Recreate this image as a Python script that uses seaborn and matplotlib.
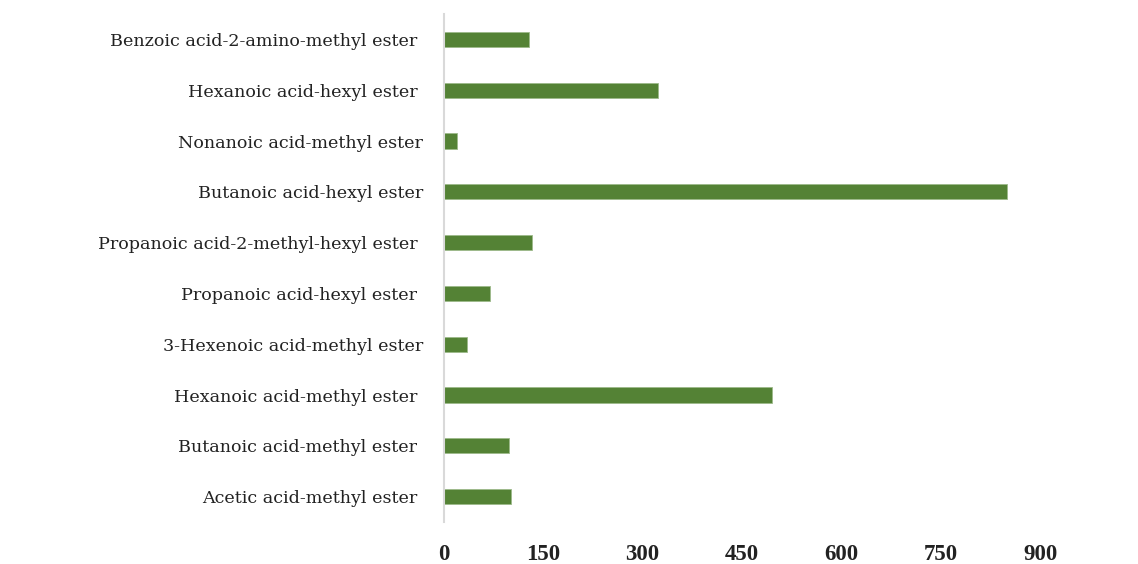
import matplotlib
matplotlib.use("Agg")
import matplotlib.pyplot as plt
import seaborn as sns
import pandas as pd

categories = [
    "Benzoic acid-2-amino-methyl ester ",
    "Hexanoic acid-hexyl ester ",
    "Nonanoic acid-methyl ester",
    "Butanoic acid-hexyl ester",
    "Propanoic acid-2-methyl-hexyl ester ",
    "Propanoic acid-hexyl ester ",
    "3-Hexenoic acid-methyl ester",
    "Hexanoic acid-methyl ester ",
    "Butanoic acid-methyl ester ",
    "Acetic acid-methyl ester ",
]
values = [128, 323, 20, 850, 133, 69, 35, 495, 98, 101]
x_ticks = [0, 150, 300, 450, 600, 750, 900]

df = pd.DataFrame({"compound": categories, "value": values})

sns.set_theme(style="white")
plt.rcParams["font.family"] = ["DejaVu Serif"]

fig = plt.figure(figsize=(11.38, 5.64), dpi=100)
ax = fig.add_axes([0.390, 0.0745, 0.524, 0.9005])

sns.barplot(data=df, y="compound", x="value", orient="h", color="#548235",
            width=0.3, saturation=1, edgecolor="#9DB98A", linewidth=0.6, ax=ax)

ax.set_xlim(0, 900)
ax.set_xticks(x_ticks)
ax.set_xticklabels([str(t) for t in x_ticks], fontsize=16.5, fontweight="bold",
                   color="#222222", family="Liberation Serif")
ax.tick_params(axis="y", labelsize=12.6, length=0, pad=15, labelcolor="#222222")
ax.tick_params(axis="x", length=0, pad=16)
ax.set_xlabel("")
ax.set_ylabel("")
for s in ["top", "right", "bottom"]:
    ax.spines[s].set_visible(False)
ax.spines["left"].set_color("#D9D9D9")
ax.spines["left"].set_linewidth(1.5)
ax.grid(False)

fig.savefig("out.png", dpi=100)
